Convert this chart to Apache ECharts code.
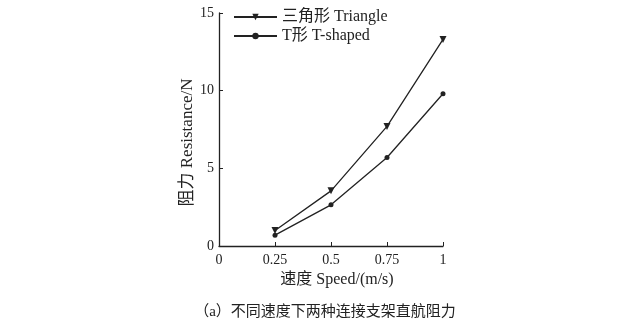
<!DOCTYPE html>
<html><head><meta charset="utf-8">
<script src="https://cdn.jsdelivr.net/npm/echarts@6/dist/echarts.min.js"></script>
<style>html,body{margin:0;padding:0;background:#fff}#c{width:640px;height:334px}</style>
</head><body><div id="c"></div>
<script>
const speeds = [0.25, 0.5, 0.75, 1];
const triangleVals = [1.0, 3.55, 7.7, 13.3];
const tshapedVals = [0.7, 2.65, 5.7, 9.8];
const xTicks = [0, 0.25, 0.5, 0.75, 1];
const yTicks = [0, 5, 10, 15];
const seriesNames = ['三角形 Triangle', 'T形 T-shaped'];
const xName = '速度 Speed/(m/s)';
const yName = '阻力 Resistance/N';
const caption = '（a）不同速度下两种连接支架直航阻力';

const font = "'Liberation Serif','Noto Sans CJK SC',serif";
const chart = echarts.init(document.getElementById('c'));
const axisCommon = {
  axisLine: {show: true, lineStyle: {color: '#222', width: 1.3}},
  axisTick: {show: true, inside: true, length: 4, lineStyle: {color: '#222'}},
  axisLabel: {color: '#222', fontFamily: font, fontSize: 14},
  splitLine: {show: false}
};
chart.setOption({
  animation: false,
  grid: {left: 219, right: 197, top: 13, bottom: 88},
  title: {text: caption, left: 320, top: 300, textAlign: 'center',
    textStyle: {fontFamily: font, fontSize: 15, fontWeight: 'normal', color: '#222'}},
  legend: {
    orient: 'vertical', left: 228, top: 4, itemWidth: 43, itemHeight: 8, itemGap: 3,
    textStyle: {fontFamily: font, fontSize: 16, color: '#222'},
    data: seriesNames
  },
  xAxis: Object.assign({}, axisCommon, {
    type: 'value', min: xTicks[0], max: xTicks[xTicks.length - 1], interval: 0.25,
    name: xName, nameLocation: 'middle', nameGap: 24,
    nameTextStyle: {fontFamily: font, fontSize: 16, color: '#222', padding: [0, 0, 0, 12]},
    axisLabel: Object.assign({}, axisCommon.axisLabel, {margin: 7, formatter: v => String(v)})
  }),
  yAxis: Object.assign({}, axisCommon, {
    type: 'value', min: yTicks[0], max: yTicks[yTicks.length - 1], interval: 5,
    name: yName, nameLocation: 'middle', nameGap: 21, nameRotate: 90,
    nameTextStyle: {fontFamily: font, fontSize: 17, color: '#222', padding: [0, 26, 0, 0]},
    axisLabel: Object.assign({}, axisCommon.axisLabel, {margin: 5})
  }),
  series: [
    {name: seriesNames[0], type: 'line', data: speeds.map((s, i) => [s, triangleVals[i]]),
     symbol: 'triangle', symbolRotate: 180, symbolSize: 7,
     lineStyle: {color: '#222', width: 1.3}, itemStyle: {color: '#222'}},
    {name: seriesNames[1], type: 'line', data: speeds.map((s, i) => [s, tshapedVals[i]]),
     symbol: 'circle', symbolSize: 5,
     lineStyle: {color: '#222', width: 1.3}, itemStyle: {color: '#222'}}
  ]
});
</script></body></html>
